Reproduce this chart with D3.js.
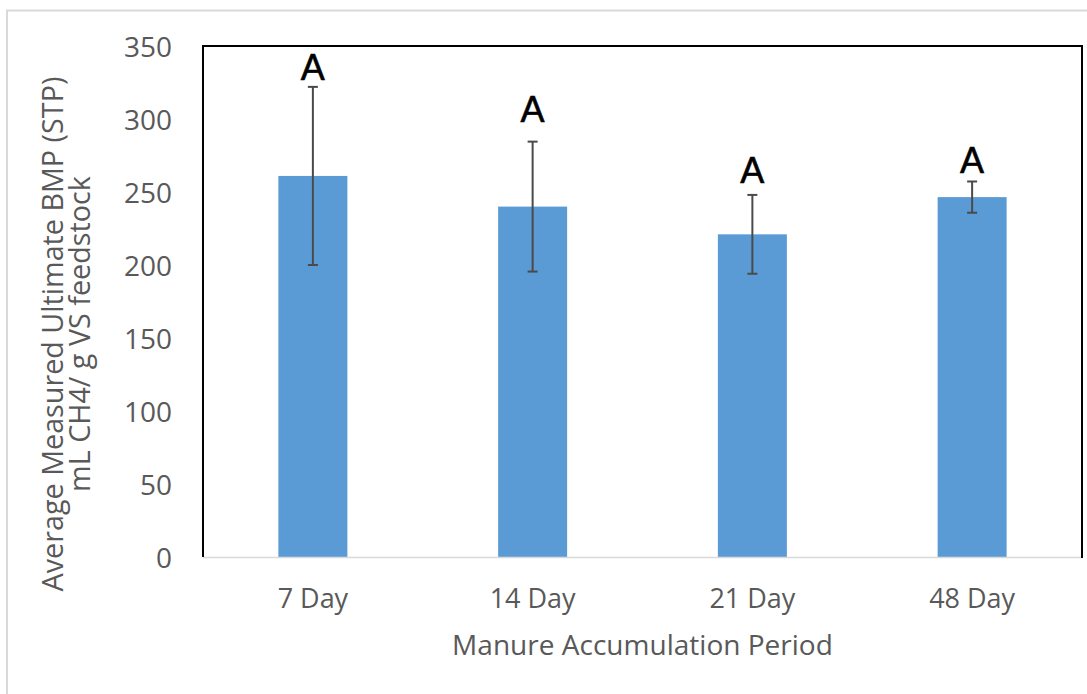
<!DOCTYPE html>
<html>
<head>
<meta charset="utf-8">
<script src="https://cdn.jsdelivr.net/npm/d3@7"></script>
<style>
  html, body { margin: 0; padding: 0; background: #fff; }
  svg { display: block; }
</style>
</head>
<body>
<svg id="chart" width="1087" height="694"></svg>
<script>
// Manure accumulation period vs. average measured ultimate BMP
const categories = ["7 Day", "14 Day", "21 Day", "48 Day"];
const meanBMP    = [261, 240, 221, 246.5];      // mL CH4 / g VS feedstock
const errorBMP   = [61, 44.5, 27, 10.7];        // ± error
const groupLetters = ["A", "A", "A", "A"];      // statistical grouping
const letterAt   = [326.7, 298, 256, 262.8];    // value level of each letter's baseline
const yTicks     = [0, 50, 100, 150, 200, 250, 300, 350];

const svg = d3.select("#chart");
const W = 1087, H = 694;
const plot = { left: 203, right: 1082, top: 46, bottom: 557 };

const textColor = "#595959";
const font = "'Open Sans', 'Noto Sans', sans-serif";

// scale a text selection's font so its first element spans the given width
function fitWidth(sel, width) {
  const base = 20;
  sel.attr("font-size", base);
  const w = sel.node().getComputedTextLength();
  sel.attr("font-size", base * width / w);
  return base * width / w;
}

// outer chart-area border
svg.append("rect")
  .attr("x", 7).attr("y", 10.5)
  .attr("width", W + 20).attr("height", H + 20)
  .attr("fill", "#fff")
  .attr("stroke", "#d9d9d9").attr("stroke-width", 2);

const x = d3.scaleBand()
  .domain(categories)
  .range([plot.left, plot.right])
  .paddingInner(0.686)
  .paddingOuter(0.343);

const y = d3.scaleLinear()
  .domain([0, 350])
  .range([plot.bottom, plot.top]);

// bars
svg.append("g").selectAll("rect")
  .data(categories)
  .join("rect")
  .attr("x", d => x(d))
  .attr("width", x.bandwidth())
  .attr("y", (d, i) => y(meanBMP[i]))
  .attr("height", (d, i) => y(0) - y(meanBMP[i]))
  .attr("fill", "#5b9bd5");

// category baseline
svg.append("line")
  .attr("x1", plot.left).attr("x2", plot.right)
  .attr("y1", y(0) + 0.5).attr("y2", y(0) + 0.5)
  .attr("stroke", "#d9d9d9").attr("stroke-width", 1.5);

// plot frame: top, left and right edges
svg.append("path")
  .attr("d", `M${plot.left},${plot.bottom}V${plot.top}H${plot.right}V${plot.bottom + 1}`)
  .attr("fill", "none")
  .attr("stroke", "#000")
  .attr("stroke-width", 2);

// error bars
const eb = svg.append("g")
  .attr("stroke", "#4a4a4a")
  .attr("stroke-width", 2)
  .attr("fill", "none");
const cap = 5;
categories.forEach((c, i) => {
  const cx = x(c) + x.bandwidth() / 2;
  const hi = y(meanBMP[i] + errorBMP[i]);
  const lo = y(meanBMP[i] - errorBMP[i]);
  eb.append("line").attr("x1", cx).attr("x2", cx).attr("y1", hi).attr("y2", lo);
  eb.append("line").attr("x1", cx - cap).attr("x2", cx + cap).attr("y1", hi).attr("y2", hi);
  eb.append("line").attr("x1", cx - cap).attr("x2", cx + cap).attr("y1", lo).attr("y2", lo);
});

// grouping letters
svg.append("g").selectAll("text")
  .data(categories)
  .join("text")
  .attr("x", d => x(d) + x.bandwidth() / 2)
  .attr("y", (d, i) => y(letterAt[i]))
  .attr("text-anchor", "middle")
  .attr("font-family", "'Liberation Sans', Arial, sans-serif")
  .attr("font-size", 36)
  .attr("fill", "#000")
  .attr("stroke", "#000")
  .attr("stroke-width", 0.6)
  .text((d, i) => groupLetters[i]);

// y axis
const yAxis = svg.append("g")
  .attr("transform", `translate(${plot.left},0)`)
  .call(d3.axisLeft(y).tickValues(yTicks).tickSize(0).tickPadding(31));
yAxis.select(".domain").remove();
const yLabels = yAxis.selectAll("text")
  .attr("font-family", font)
  .attr("fill", textColor)
  .attr("dy", "0.36em");
const yTickSize = fitWidth(yAxis.selectAll("text").filter(d => d === 350), 48);
yLabels.attr("font-size", yTickSize);

// x axis
const xAxis = svg.append("g")
  .attr("transform", `translate(0,${plot.bottom})`)
  .call(d3.axisBottom(x).tickSize(0).tickPadding(0));
xAxis.select(".domain").remove();
const xLabels = xAxis.selectAll("text")
  .attr("font-family", font)
  .attr("fill", textColor)
  .attr("y", 51)
  .attr("dy", 0);
const xTickSize = fitWidth(xAxis.selectAll("text").filter(d => d === "7 Day"), 70.5);
xLabels.attr("font-size", xTickSize);

// axis titles
const xTitle = svg.append("text")
  .attr("x", (plot.left + plot.right) / 2)
  .attr("y", 655)
  .attr("text-anchor", "middle")
  .attr("font-family", font)
  .attr("fill", textColor)
  .text("Manure Accumulation Period");
fitWidth(xTitle, 381);

const yTitle1 = svg.append("text")
  .attr("transform", "translate(63,334) rotate(-90)")
  .attr("text-anchor", "middle")
  .attr("font-family", font)
  .attr("fill", textColor)
  .text("Average Measured Ultimate BMP (STP)");
const yTitleSize = fitWidth(yTitle1, 515);

svg.append("text")
  .attr("transform", "translate(90,334) rotate(-90)")
  .attr("text-anchor", "middle")
  .attr("font-family", font)
  .attr("font-size", yTitleSize)
  .attr("fill", textColor)
  .text("mL CH4/ g VS feedstock");
</script>
</body>
</html>
